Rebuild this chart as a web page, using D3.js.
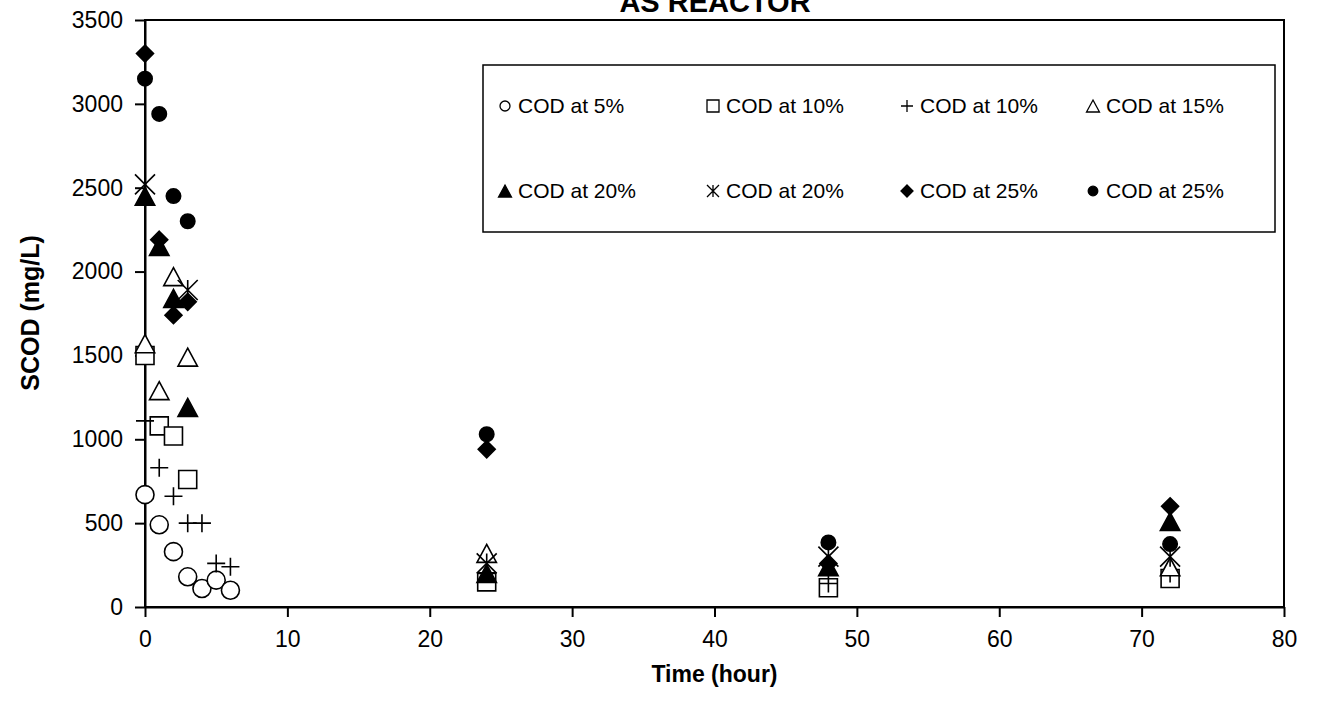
<!DOCTYPE html>
<html>
<head>
<meta charset="utf-8">
<script src="https://cdn.jsdelivr.net/npm/d3@7"></script>
<style>
  body { margin: 0; background: #fff; }
  text { font-family: "Liberation Sans", Arial, sans-serif; fill: #000; }
</style>
</head>
<body>
<div id="chart"></div>
<script>
// values: time (hour) and SCOD (mg/L)
const cod5Time  = [0, 1, 2, 3, 4, 5, 6];
const cod5      = [670, 490, 330, 180, 110, 160, 100];
const cod10aTime = [0, 1, 2, 3, 24, 48, 72];
const cod10a     = [1500, 1080, 1020, 760, 150, 115, 170];
const cod10bTime = [0, 1, 2, 3, 4, 5, 6, 24, 48, 72];
const cod10b     = [1110, 830, 660, 500, 500, 260, 240, 200, 140, 200];
const cod15Time = [0, 1, 2, 3, 24, 72];
const cod15     = [1570, 1290, 1970, 1490, 320, 240];
const cod20aTime = [0, 1, 2, 3, 24, 48, 72];
const cod20a     = [2450, 2150, 1840, 1190, 200, 240, 510];
const cod20bTime = [0, 3, 24, 48, 72];
const cod20b     = [2520, 1890, 260, 300, 300];
const cod25aTime = [0, 1, 2, 3, 24, 48, 72];
const cod25a     = [3300, 2190, 1740, 1820, 940, 260, 600];
const cod25bTime = [0, 1, 2, 3, 24, 48, 72];
const cod25b     = [3150, 2940, 2450, 2300, 1030, 385, 375];

const seriesNames = ["COD at 5%", "COD at 10%", "COD at 10%", "COD at 15%",
                     "COD at 20%", "COD at 20%", "COD at 25%", "COD at 25%"];
const xTicks = [0, 10, 20, 30, 40, 50, 60, 70, 80];
const yTicks = [0, 500, 1000, 1500, 2000, 2500, 3000, 3500];

const width = 1319, height = 703;
const margin = { top: 20, right: 35, bottom: 96, left: 145 };

const series = [
  { name: seriesNames[0], t: cod5Time,   v: cod5,   shape: "circle",   fill: false },
  { name: seriesNames[1], t: cod10aTime, v: cod10a, shape: "square",   fill: false },
  { name: seriesNames[2], t: cod10bTime, v: cod10b, shape: "plus",     fill: false },
  { name: seriesNames[3], t: cod15Time,  v: cod15,  shape: "triangle", fill: false },
  { name: seriesNames[4], t: cod20aTime, v: cod20a, shape: "triangle", fill: true },
  { name: seriesNames[5], t: cod20bTime, v: cod20b, shape: "star",     fill: false },
  { name: seriesNames[6], t: cod25aTime, v: cod25a, shape: "diamond",  fill: true },
  { name: seriesNames[7], t: cod25bTime, v: cod25b, shape: "circle",   fill: true }
];

const svg = d3.select("#chart")
  .append("svg")
  .attr("width", width)
  .attr("height", height);

const x = d3.scaleLinear()
  .domain([0, 80])
  .range([margin.left, width - margin.right]);

const y = d3.scaleLinear()
  .domain([0, 3500])
  .range([height - margin.bottom, margin.top]);

// marker paths, s = overall size in px
function marker(shape, s, filled) {
  const h = s / 2;
  if (shape === "circle") {
    const r = filled ? h * 0.8 : h;
    return `M${-r},0A${r},${r} 0 1,0 ${r},0A${r},${r} 0 1,0 ${-r},0Z`;
  }
  if (shape === "square") return `M${-h},${-h}H${h}V${h}H${-h}Z`;
  if (shape === "plus") return `M${-h},0H${h}M0,${-h}V${h}`;
  if (shape === "triangle") {
    const w = h * 1.08;
    return `M0,${-h}L${w},${h}L${-w},${h}Z`;
  }
  if (shape === "diamond") return `M0,${-h}L${h},0L0,${h}L${-h},0Z`;
  if (shape === "star") return `M${-h},${-h}L${h},${h}M${h},${-h}L${-h},${h}M0,${-h}V${h}`;
}

// plot frame
svg.append("rect")
  .attr("x", margin.left)
  .attr("y", margin.top)
  .attr("width", width - margin.right - margin.left)
  .attr("height", height - margin.bottom - margin.top)
  .attr("fill", "none")
  .attr("stroke", "#000")
  .attr("stroke-width", 2);

svg.append("g")
  .attr("transform", `translate(${margin.left},0)`)
  .call(d3.axisLeft(y).tickValues(yTicks).tickFormat(d3.format("d"))
    .tickSize(10).tickSizeOuter(0).tickPadding(12))
  .call(g => g.select(".domain").attr("stroke-width", 2))
  .call(g => g.selectAll(".tick line").attr("stroke-width", 2))
  .call(g => g.selectAll(".tick text").style("font-size", "23px"));

svg.append("g")
  .attr("transform", `translate(0,${height - margin.bottom})`)
  .call(d3.axisBottom(x).tickValues(xTicks).tickSize(10).tickSizeOuter(0).tickPadding(14))
  .call(g => g.select(".domain").attr("stroke-width", 2))
  .call(g => g.selectAll(".tick line").attr("stroke-width", 2))
  .call(g => g.selectAll(".tick text").style("font-size", "23px"));

svg.append("text")
  .attr("x", 715)
  .attr("y", 12)
  .attr("text-anchor", "middle")
  .style("font-size", "29px")
  .style("font-weight", "bold")
  .text("AS REACTOR");

svg.append("text")
  .attr("x", (margin.left + width - margin.right) / 2)
  .attr("y", 682)
  .attr("text-anchor", "middle")
  .style("font-size", "23px")
  .style("font-weight", "bold")
  .text("Time (hour)");

svg.append("text")
  .attr("transform", "rotate(-90)")
  .attr("x", -313)
  .attr("y", 39)
  .attr("text-anchor", "middle")
  .style("font-size", "25px")
  .style("font-weight", "bold")
  .text("SCOD (mg/L)");

// data points
const sizes = { circle: 18, square: 18, plus: 18, triangle: 18, diamond: 17, star: 20 };
series.forEach(s => {
  const pts = s.t.map((t, i) => ({ t: t, v: s.v[i] }));
  svg.append("g")
    .selectAll("path")
    .data(pts)
    .join("path")
      .attr("transform", d => `translate(${x(d.t)},${y(d.v)})`)
      .attr("d", marker(s.shape, sizes[s.shape], s.fill))
      .attr("fill", s.fill ? "#000" : (s.shape === "plus" || s.shape === "star" ? "none" : "#fff"))
      .attr("stroke", "#000")
      .attr("stroke-width", 1.6);
});

// legend
const legend = svg.append("g");
legend.append("rect")
  .attr("x", 483).attr("y", 65)
  .attr("width", 792).attr("height", 167)
  .attr("fill", "#fff")
  .attr("stroke", "#000")
  .attr("stroke-width", 1.5);

const colX = [505, 713, 907, 1093];
const rowY = [106, 191];
series.forEach((s, i) => {
  const gx = colX[i % 4], gy = rowY[Math.floor(i / 4)];
  legend.append("path")
    .attr("transform", `translate(${gx},${gy})`)
    .attr("d", marker(s.shape, s.shape === "circle" && !s.fill ? 10 : 12, s.fill))
    .attr("fill", s.fill ? "#000" : "none")
    .attr("stroke", "#000")
    .attr("stroke-width", 1.3);
  legend.append("text")
    .attr("x", gx + 13)
    .attr("y", gy)
    .attr("dy", "0.35em")
    .style("font-size", "21px")
    .text(s.name);
});
</script>
</body>
</html>
